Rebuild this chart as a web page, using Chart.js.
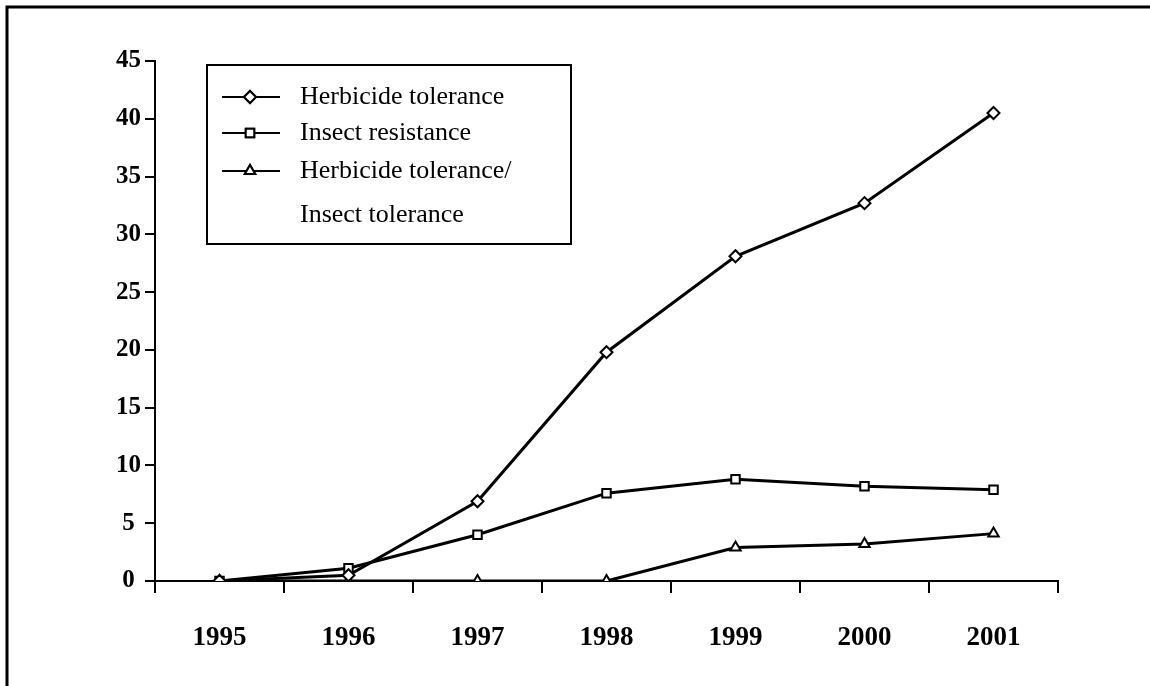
<!DOCTYPE html>
<html>
<head>
<meta charset="utf-8">
<script src="https://cdn.jsdelivr.net/npm/chart.js@4.4.0/dist/chart.umd.min.js"></script>
<style>
  html, body { margin: 0; padding: 0; background: #fff; }
  #wrap { width: 1150px; height: 686px; position: relative; }
</style>
</head>
<body>
<div id="wrap"><canvas id="chart" width="1150" height="686"></canvas></div>
<script>
const years = ['1995', '1996', '1997', '1998', '1999', '2000', '2001'];
const herbicide = [0, 0.5, 6.9, 19.8, 28.1, 32.7, 40.5];
const insect = [0, 1.1, 4.0, 7.6, 8.8, 8.2, 7.9];
const stacked = [0, 0, 0, 0, 2.9, 3.2, 4.1];
const seriesNames = ['Herbicide tolerance', 'Insect resistance', 'Herbicide tolerance/\nInsect tolerance'];
const markers = ['rectRot', 'rect', 'triangle'];

const serif = "'Liberation Serif', 'Times New Roman', serif";

// frame + legend box, drawn by hand because of the two-line label
const legendBox = {
    id: 'legendBox',
    afterDraw(chart) {
        const ctx = chart.ctx;
        ctx.save();
        // outer frame (left and top only, picture is cropped)
        ctx.strokeStyle = '#000';
        ctx.lineWidth = 3;
        ctx.beginPath();
        ctx.moveTo(7, 686);
        ctx.lineTo(7, 7);
        ctx.lineTo(1150, 7);
        ctx.stroke();

        // legend
        ctx.lineWidth = 2;
        ctx.strokeRect(207, 65, 364, 179);
        ctx.font = '26px ' + serif;
        ctx.fillStyle = '#000';
        ctx.textBaseline = 'middle';
        const rows = [97, 133, 171];
        seriesNames.forEach((name, i) => {
            const y = rows[i];
            ctx.lineWidth = 2;
            ctx.beginPath();
            ctx.moveTo(222, y);
            ctx.lineTo(280, y);
            ctx.stroke();
            Chart.helpers.drawPoint(ctx, {
                pointStyle: markers[i], radius: 6, borderWidth: 1.5
            }, 250, y);
            ctx.fillStyle = '#fff';
            ctx.fill();
            ctx.stroke();
            ctx.fillStyle = '#000';
            name.split('\n').forEach((line, j) => {
                ctx.fillText(line, 300, y + j * 44);
            });
        });
        ctx.restore();
    }
};

const makeSet = (label, data, style) => ({
    label: label,
    data: data,
    borderColor: '#000',
    borderWidth: 3,
    backgroundColor: '#fff',
    pointStyle: style,
    pointRadius: 6,
    pointBorderWidth: 2,
    pointBackgroundColor: '#fff',
    pointBorderColor: '#000',
    tension: 0
});

new Chart(document.getElementById('chart'), {
    type: 'line',
    data: {
        labels: years,
        datasets: [
            makeSet(seriesNames[0], herbicide, markers[0]),
            makeSet(seriesNames[1], insect, markers[1]),
            makeSet(seriesNames[2], stacked, markers[2])
        ]
    },
    options: {
        responsive: false,
        animation: false,
        layout: {
            padding: { top: 61, right: 92, left: 0, bottom: 0 }
        },
        plugins: {
            legend: { display: false },
            tooltip: { enabled: false }
        },
        scales: {
            x: {
                offset: true,
                border: { color: '#000', width: 2 },
                grid: {
                    offset: true,
                    drawOnChartArea: false,
                    color: '#000',
                    lineWidth: 2,
                    tickLength: 12
                },
                ticks: {
                    color: '#000',
                    padding: 29,
                    font: { family: serif, size: 27, weight: 'bold' }
                },
                afterFit(scale) { scale.height = 105; }
            },
            y: {
                min: 0,
                max: 45,
                border: { color: '#000', width: 2 },
                grid: {
                    drawOnChartArea: false,
                    color: '#000',
                    lineWidth: 2,
                    tickLength: 10
                },
                ticks: {
                    stepSize: 5,
                    color: '#000',
                    padding: 4,
                    crossAlign: 'center',
                    font: { family: serif, size: 25, weight: 'bold' }
                },
                afterFit(scale) { scale.width = 155; }
            }
        }
    },
    plugins: [legendBox]
});
</script>
</body>
</html>
